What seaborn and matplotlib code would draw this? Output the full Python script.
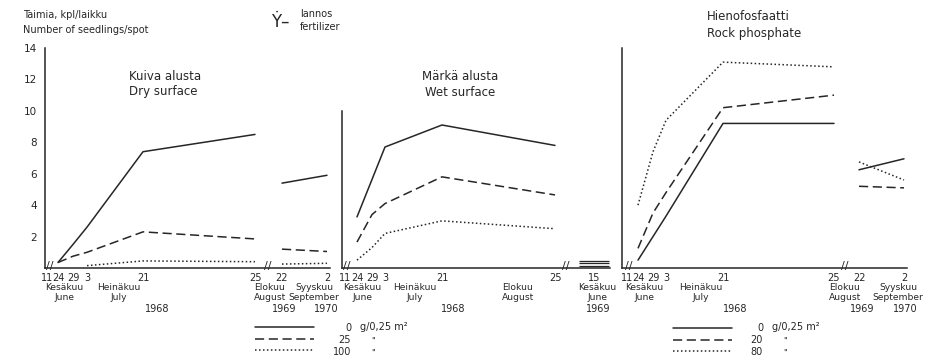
import numpy as np
import pandas as pd
import matplotlib
matplotlib.use('Agg')
import matplotlib.pyplot as plt
import seaborn as sns
from matplotlib.lines import Line2D

# observation dates
dates_1968 = ['1968-06-24', '1968-06-29', '1968-07-03', '1968-07-21', '1968-08-25']
dates_late = ['1969-08-22', '1970-09-02']
date_wet_late = ['1969-06-15']

# dry surface, Y-fertilizer 0 / 25 / 100 g per 0.25 m2
dry_doses = ['0', '25', '100']
dry_0 = [0.35, 1.5, 2.6, 7.4, 8.5]
dry_25 = [0.35, 0.75, 1.0, 2.3, 1.85]
dry_100 = [np.nan, np.nan, 0.15, 0.45, 0.4]
dry_late_0 = [5.4, 5.9]
dry_late_25 = [1.2, 1.05]
dry_late_100 = [0.25, 0.3]

# wet surface
wet_0 = [3.25, np.nan, 7.7, 9.1, 7.8]
wet_25 = [1.65, 3.4, 4.1, 5.8, 4.65]
wet_100 = [0.5, 1.3, 2.2, 3.0, 2.5]
wet_late_0 = [0.45]
wet_late_25 = [0.3]
wet_late_100 = [0.15]

# rock phosphate 0 / 20 / 80
rock_doses = ['0', '20', '80']
rock_0 = [0.5, np.nan, 3.3, 9.2, 9.2]
rock_20 = [1.25, 3.5, 4.8, 10.2, 11.0]
rock_80 = [4.0, 7.4, 9.4, 13.1, 12.8]
rock_late_0 = [6.25, 6.95]
rock_late_20 = [5.2, 5.1]
rock_late_80 = [6.75, 5.6]

start = pd.Timestamp('1968-06-11')
def days(ds):
    return [(pd.Timestamp(d) - start).days for d in ds]

rows = []
def add(panel, seg, dose, ds, vals):
    for d, v in zip(days(ds), vals):
        rows.append([panel, seg, dose, d, v])

for dose, a, b in zip(dry_doses, [dry_0, dry_25, dry_100], [dry_late_0, dry_late_25, dry_late_100]):
    add('dry', 0, dose, dates_1968, a); add('dry', 1, dose, dates_late, b)
for dose, a, b in zip(dry_doses, [wet_0, wet_25, wet_100], [wet_late_0, wet_late_25, wet_late_100]):
    add('wet', 0, dose, dates_1968, a); add('wet', 1, dose, date_wet_late, b)
for dose, a, b in zip(rock_doses, [rock_0, rock_20, rock_80], [rock_late_0, rock_late_20, rock_late_80]):
    add('rock', 0, dose, dates_1968, a); add('rock', 1, dose, dates_late, b)
df = pd.DataFrame(rows, columns = ['panel', 'seg', 'dose', 'day', 'value'])

W, H = 938, 364
ink = '#262626'
sns.set_style('white')
plt.rcParams['font.family'] = ['DejaVu Sans']
plt.rcParams['text.color'] = ink
fig = plt.figure(figsize = (W / 100, H / 100), dpi = 100)

def T(x, y, s, size = 7, ha = 'center', **kw):
    fig.text(x / W, 1 - y / H, s, fontsize = size, ha = ha, va = 'center', color = ink, **kw)

# hand-drawn time axis: day -> pixel position knots per panel
axis_knots = {
    'dry': ([-2, 0, 13, 18, 22, 40, 75, 437, 813, 818], [45, 47, 58, 73, 87, 143, 255, 282, 327, 330]),
    'wet': ([-2, 0, 13, 18, 22, 40, 75, 369, 380], [342, 345, 357, 372, 385, 442, 555, 594, 610]),
    'rock': ([-3, 0, 13, 18, 22, 40, 75, 437, 813, 818], [622, 627, 638, 653, 666, 723, 834, 859, 904, 907]),
}
tick_days = {'dry': days(['1968-06-11'] + dates_1968 + dates_late),
             'wet': days(['1968-06-11'] + dates_1968 + date_wet_late),
             'rock': days(['1968-06-11'] + dates_1968 + dates_late)}
tick_labels = {'dry': ['11', '24', '29', '3', '21', '25', '22', '2'],
               'wet': ['11', '24', '29', '3', '21', '25', '15'],
               'rock': ['11', '24', '29', '3', '21', '25', '22', '2']}

axes = {}
for p in ['dry', 'wet', 'rock']:
    kd = np.array(axis_knots[p][0], float); kp = np.array(axis_knots[p][1], float)
    ax = fig.add_axes([kp[0] / W, (H - 268) / H, (kp[-1] - kp[0]) / W, 220 / H])
    ax.set_xscale('function', functions = (lambda x, kd=kd, kp=kp: np.interp(x, kd, kp),
                                           lambda x, kd=kd, kp=kp: np.interp(x, kp, kd)))
    ax.set_xlim(kd[0], kd[-1]); ax.set_ylim(0, 14)
    ax.patch.set_alpha(0)
    for s in ['top', 'right']:
        ax.spines[s].set_visible(False)
    for s in ['left', 'bottom']:
        ax.spines[s].set_color(ink); ax.spines[s].set_linewidth(1.1)
    ax.set_xticks(tick_days[p]); ax.set_xticklabels(tick_labels[p])
    ax.tick_params(axis = 'x', direction = 'out', length = 2.5, width = 1, pad = 1, labelsize = 7, colors = ink)
    ax.tick_params(axis = 'y', direction = 'out', length = 3.5, width = 1, pad = 2, labelsize = 7.5, colors = ink)
    doses = rock_doses if p == 'rock' else dry_doses
    dmap = {doses[0]: '', doses[1]: (6, 3), doses[2]: (1, 1.6)}
    sub = df[df.panel == p]
    multi = sub.groupby(['seg', 'dose'])['day'].transform('count') > 1
    sns.lineplot(data = sub[multi], x = 'day', y = 'value', style = 'dose', units = 'seg', estimator = None,
                 dashes = dmap, color = ink, lw = 1.1, legend = False, ax = ax)
    if (~multi).any():
        sns.scatterplot(data = sub[~multi], x = 'day', y = 'value', marker = '_', s = 460, color = ink,
                        linewidth = 0.9, legend = False, ax = ax)
    ax.set_xlabel(''); ax.set_ylabel('')
    axes[p] = ax

axes['dry'].set_yticks(range(2, 15, 2))
axes['wet'].set_yticks(range(2, 11, 2)); axes['wet'].set_yticklabels([])
axes['wet'].spines['left'].set_bounds(0, 10)
axes['rock'].set_yticks(range(2, 15, 2)); axes['rock'].set_yticklabels([])

# axis breaks
for x in [50, 268, 347, 566, 629, 845]:
    T(x, 266, '//', size = 8)

# header texts
T(23, 15, 'Taimia, kpl/laikku', ha = 'left')
T(23, 30, 'Number of seedlings/spot', ha = 'left')
T(280, 22, 'Ẏ–', size = 12)
T(300, 14, 'lannos', ha = 'left')
T(300, 27, 'fertilizer', ha = 'left')
T(129, 77, 'Kuiva alusta', size = 8.5, ha = 'left')
T(129, 92, 'Dry surface', size = 8.5, ha = 'left')
T(460, 77, 'Märkä alusta', size = 8.5)
T(460, 92, 'Wet surface', size = 8.5)
T(707, 16, 'Hienofosfaatti', size = 8.5, ha = 'left')
T(707, 33, 'Rock phosphate', size = 8.5, ha = 'left')

# month / year labels
months = [
    (64, 'Kesäkuu', 'June'), (119, 'Heinäkuu', 'July'), (270, 'Elokuu', 'August'), (314, 'Syyskuu', 'September'),
    (362, 'Kesäkuu', 'June'), (415, 'Heinäkuu', 'July'), (518, 'Elokuu', 'August'), (597, 'Kesäkuu', 'June'),
    (644, 'Kesäkuu', 'June'), (701, 'Heinäkuu', 'July'), (845, 'Elokuu', 'August'), (898, 'Syyskuu', 'September'),
]
for x, fi, en in months:
    T(x, 288, fi, size = 6.6); T(x, 297, en, size = 6.6)
for x, y in [(157, '1968'), (284, '1969'), (326, '1970'), (453, '1968'), (598, '1969'),
             (735, '1968'), (862, '1969'), (905, '1970')]:
    T(x, 309, y)

# legends
styles = [dict(ls = '-'), dict(dashes = (6, 3)), dict(dashes = (1, 1.6))]
for x0, y0, labs in [(255, 322, dry_doses), (673, 323, rock_doses)]:
    handles = [Line2D([], [], color = ink, lw = 1.1, **st) for st in styles]
    fig.legend(handles, [' '] * 3, loc = 'upper left', bbox_to_anchor = (x0 / W, 1 - y0 / H), frameon = False,
               fontsize = 7, handlelength = 6.1, handletextpad = 0, borderpad = 0, borderaxespad = 0,
               labelspacing = 0.2)
    xr = 351 if x0 < 500 else 763
    for i, l in enumerate(labs):
        T(xr, 328 + 12 * i, l, ha = 'right')
    T(xr + 9, 327, 'g/0,25 m²', ha = 'left')
    T(xr + 22, 341, '"', ha = 'center', size = 6)
    T(xr + 22, 353, '"', ha = 'center', size = 6)

plt.savefig('out.png', dpi = 100, facecolor = 'white')
